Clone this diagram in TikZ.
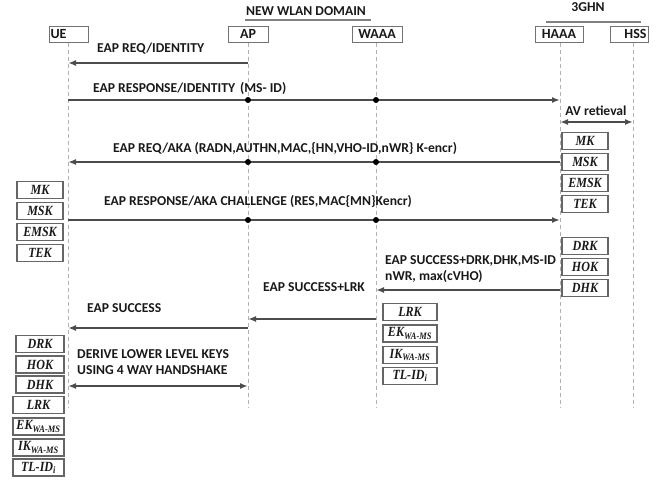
\documentclass[tikz,border=0pt]{standalone}
\usepackage{fontspec}
\setmainfont{Carlito}
\newfontfamily\keyfont[FakeStretch=0.86]{Liberation Serif}
\usetikzlibrary{arrows.meta}
\begin{document}
\begin{tikzpicture}[x=1pt,y=-1pt,
  lbl/.style={font=\bfseries\fontsize{13.6}{16}\selectfont, anchor=west, inner sep=0pt, align=left, text=black!90},
  hdr/.style={draw=black!55, line width=1pt, minimum height=16pt, inner xsep=1.5pt, inner ysep=0pt, font=\bfseries\fontsize{14}{14}\selectfont, text=black!90},
  keybox/.style={draw=black!60, line width=1.4pt, minimum height=17pt, inner sep=0pt, font=\keyfont\bfseries\itshape\fontsize{14}{14}\selectfont, text=black!90},
  life/.style={draw=black!30, line width=0.7pt, dash pattern=on 4pt off 3pt},
  msg/.style={draw=black!70, line width=1.6pt, -{Latex[length=8pt,width=6pt]}},
  dmsg/.style={draw=black!70, line width=1.6pt, {Latex[length=8pt,width=6pt]}-{Latex[length=8pt,width=6pt]}},
  dot/.style={circle, fill=black, inner sep=0pt, minimum size=6pt},
  uline/.style={draw=black!50, line width=1.2pt},
]
\useasboundingbox (0,0) rectangle (665,485);

% domain headings
\node[lbl, anchor=center] (wlan) at (306,11) {NEW WLAN DOMAIN};
\coordinate (wlanL) at (245,20); \coordinate (wlanR) at (371,20);
\draw[uline] (wlanL) -- (wlanR);
\node[lbl, anchor=center] (ghn) at (588,7) {3GHN};
\coordinate (ghnL) at (546,22); \coordinate (ghnR) at (641,22);
\draw[uline] (ghnL) -- (ghnR);

% entity boxes
\node[hdr, minimum width=39pt, text width=36pt, align=left] (ue) at (68.5,34) {UE};
\node[hdr, minimum width=40pt] (ap) at (248,34) {AP};
\node[hdr, minimum width=50pt] (waaa) at (377,34) {WAAA};
\node[hdr, minimum width=48pt] (haaa) at (559,34) {HAAA};
\node[hdr, minimum width=38pt, text width=35pt, align=right] (hss) at (629,34) {HSS};

% lifelines
\coordinate (ueEnd) at (68,408);
\coordinate (apEnd) at (248,408);
\coordinate (waaaEnd) at (376,408);
\coordinate (haaaEnd) at (560,408);
\coordinate (hssEnd) at (633,408);
\draw[life] (ue.south -| ueEnd) -- (ueEnd);
\draw[life] (ap.south -| apEnd) -- (apEnd);
\draw[life] (waaa.south -| waaaEnd) -- (waaaEnd);
\draw[life] (haaa.south -| haaaEnd) -- (haaaEnd);
\draw[life] (hss.south -| hssEnd) -- (hssEnd);

% message 1
\node[lbl] (l1) at (97,49) {EAP REQ/IDENTITY};
\coordinate (m1s) at (248,63); \coordinate (m1e) at (68,63);
\draw[msg] (m1s) -- (m1e);

% message 2
\node[lbl] (l2) at (93,88) {EAP RESPONSE/IDENTITY\hspace{5pt}(MS- ID)};
\coordinate (m2s) at (68,100); \coordinate (m2e) at (560,100);
\draw[msg] (m2s) -- (m2e);
\node[dot] (d2a) at (248,100) {};
\node[dot] (d2b) at (376,100) {};

% AV retrieval
\node[lbl, anchor=center] (lav) at (596,111) {AV retieval};
\coordinate (avs) at (560,122); \coordinate (ave) at (633,122);
\draw[dmsg] (avs) -- (ave);

% right key stack 1
\node[keybox, minimum width=46pt] (rk1) at (585,141) {MK};
\node[keybox, minimum width=46pt] (rk2) at (585,162) {MSK};
\node[keybox, minimum width=46pt] (rk3) at (585,183) {EMSK};
\node[keybox, minimum width=46pt] (rk4) at (585,204) {TEK};

% message 3
\node[lbl] (l3) at (113,148) {EAP REQ/AKA (RADN,AUTHN,MAC,\{HN,VHO-ID,nWR\} K-encr)};
\coordinate (m3s) at (560,162); \coordinate (m3e) at (68,162);
\draw[msg] (m3s) -- (m3e);
\node[dot] (d3a) at (248,162) {};
\node[dot] (d3b) at (376,162) {};

% left key stack 1
\node[keybox, minimum width=46pt] (lk1) at (40,190) {MK};
\node[keybox, minimum width=46pt] (lk2) at (40,211) {MSK};
\node[keybox, minimum width=46pt] (lk3) at (40,232) {EMSK};
\node[keybox, minimum width=46pt] (lk4) at (40,253) {TEK};

% message 4
\node[lbl] (l4) at (104,201) {EAP RESPONSE/AKA CHALLENGE (RES,MAC\{MN\}Kencr)};
\coordinate (m4s) at (68,220); \coordinate (m4e) at (560,220);
\draw[msg] (m4s) -- (m4e);
\node[dot] (d4a) at (248,220) {};
\node[dot] (d4b) at (376,220) {};

% right key stack 2
\node[keybox, minimum width=46pt] (rk5) at (585,246) {DRK};
\node[keybox, minimum width=46pt] (rk6) at (585,267) {HOK};
\node[keybox, minimum width=46pt] (rk7) at (585,288) {DHK};

% message 5
\node[lbl] (l5) at (385,269) {EAP SUCCESS+DRK,DHK,MS-ID\\nWR, max(cVHO)};
\coordinate (m5s) at (560,290); \coordinate (m5e) at (376,290);
\draw[msg] (m5s) -- (m5e);

% message 6
\node[lbl] (l6) at (263,287) {EAP SUCCESS+LRK};
\coordinate (m6s) at (376,319); \coordinate (m6e) at (248,319);
\draw[msg] (m6s) -- (m6e);

% WAAA key stack
\node[keybox, minimum width=54pt] (wk1) at (410,312) {LRK};
\node[keybox, minimum width=54pt] (wk2) at (410,333.5) {EK\textsubscript{WA-MS}};
\node[keybox, minimum width=54pt] (wk3) at (410,355) {IK\textsubscript{WA-MS}};
\node[keybox, minimum width=54pt] (wk4) at (410,376) {TL-ID\textsubscript{i}};

% message 7
\node[lbl] (l7) at (87,308) {EAP SUCCESS};
\coordinate (m7s) at (248,328); \coordinate (m7e) at (68,328);
\draw[msg] (m7s) -- (m7e);

% left key stack 2
\node[keybox, minimum width=48pt] (lk5) at (40,344) {DRK};
\node[keybox, minimum width=48pt] (lk6) at (40,364.5) {HOK};
\node[keybox, minimum width=48pt] (lk7) at (40,384.5) {DHK};
\node[keybox, minimum width=51pt] (lk8) at (38.5,405) {LRK};
\node[keybox, minimum width=51pt] (lk9) at (38.5,426.5) {EK\textsubscript{WA-MS}};
\node[keybox, minimum width=51pt] (lk10) at (38.5,447.5) {IK\textsubscript{WA-MS}};
\node[keybox, minimum width=51pt] (lk11) at (38.5,467.5) {TL-ID\textsubscript{i}};

% message 8
\node[lbl] (l8) at (77,362) {DERIVE LOWER LEVEL KEYS\\USING 4 WAY HANDSHAKE};
\coordinate (m8s) at (68,386); \coordinate (m8e) at (248,386);
\draw[dmsg] (m8s) -- (m8e);
\end{tikzpicture}
\end{document}
